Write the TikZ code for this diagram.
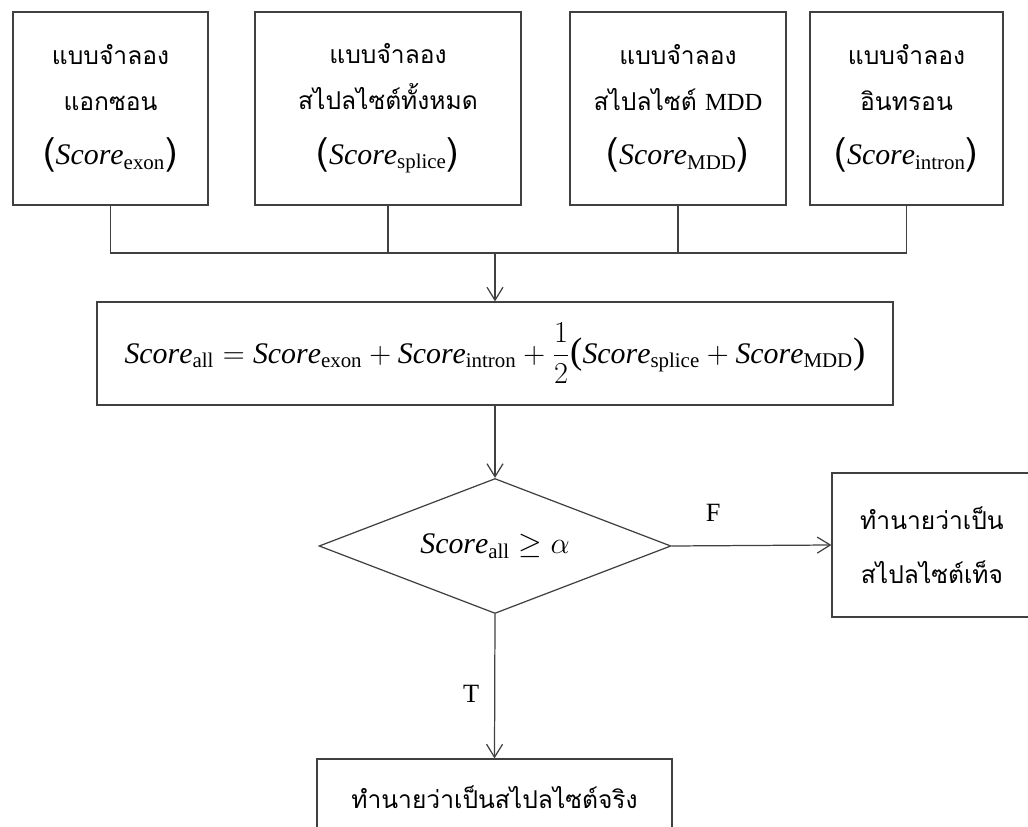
\documentclass[tikz,border=0pt]{standalone}
\usepackage{amsmath}
\usepackage{fontspec}
\setmainfont{Liberation Serif}
\newfontfamily\thaifont[Script=Thai]{Loma}
\usetikzlibrary{arrows.meta,shapes.geometric}
\newcommand{\score}[1]{\mathit{Score}_{\mathrm{#1}}}
\newcommand{\mathsz}{\fontsize{17}{25}\selectfont}
\newcommand{\bigparl}{\mathopen{\text{\fontsize{21}{21}\selectfont(}}}
\newcommand{\bigparr}{\mathclose{\text{\fontsize{21}{21}\selectfont)}}}
\tikzset{
	box/.style={draw=black!75, line width=0.7pt, inner sep=0pt, align=center},
	model/.style={box, minimum height=3.86cm, font=\thaifont\fontsize{14}{25}\selectfont},
	result/.style={box, font=\thaifont\fontsize{14}{31}\selectfont},
	formula/.style={box, minimum width=15.92cm, minimum height=2.06cm, font=\mathsz},
	decision/.style={box, diamond, aspect=2.6, minimum width=7.04cm, minimum height=2.7cm, font=\mathsz},
	link/.style={draw=black!75, line width=0.7pt},
	flow/.style={link, -{Straight Barb[length=2.6mm, width=3.2mm]}},
	tag/.style={inner sep=0pt, font=\fontsize{15}{18}\selectfont}
}

\begin{document}
\begin{tikzpicture}[x=0.02cm, y=-0.02cm]
		%%%%% START %%%%%
		\useasboundingbox (0,0) rectangle (1028,827);
		
		% four models
		\node[model, minimum width=3.9cm] (exon) at (110.5,108.5)
			{แบบจำลอง\\[1pt]แอกซอน\\[6pt]{\mathsz$\bigparl\score{exon}\bigparr$}};
		\node[model, minimum width=5.32cm] (splice) at (388,108.5)
			{แบบจำลอง\\[1pt]สไปลไซต์ทั้งหมด\\[6pt]{\mathsz$\bigparl\score{splice}\bigparr$}};
		\node[model, minimum width=4.32cm] (mdd) at (678,108.5)
			{แบบจำลอง\\[1pt]สไปลไซต์ {\rmfamily MDD}\\[6pt]{\mathsz$\bigparl\score{MDD}\bigparr$}};
		\node[model, minimum width=3.86cm] (intron) at (906.5,108.5)
			{แบบจำลอง\\[1pt]อินทรอน\\[6pt]{\mathsz$\bigparl\score{intron}\bigparr$}};
		
		\coordinate (bus) at (495,253);
		\draw[link] (exon.south) -- (exon.south |- bus) -- (intron.south |- bus) -- (intron.south);
		\draw[link] (splice.south) -- (splice.south |- bus);
		\draw[link] (mdd.south) -- (mdd.south |- bus);
		
		% total score
		\node[formula] (total) at (495,353.5)
			{$\score{all} = \score{exon} + \score{intron} + \dfrac{1}{2}\bigparl\score{splice} + \score{MDD}\bigparr$};
		\draw[flow] (bus) -- (total.north);
		
		% threshold
		\node[decision] (test) at (495,546) {$\score{all} \ge \alpha$};
		\draw[flow] (total.south) -- (test.north);
		
		\node[result, minimum width=4cm, minimum height=2.88cm] (false) at (932,545)
			{ทำนายว่าเป็น\\สไปลไซต์เท็จ};
		\node[result, minimum width=7.1cm, minimum height=1.52cm] (true) at (494.5,797)
			{ทำนายว่าเป็นสไปลไซต์จริง};
		
		\draw[flow] (test.east) -- node[tag, pos=0.26, above=0.48cm] (f) {F} (false.west);
		\draw[flow] (test.south) -- node[tag, pos=0.55, left=0.3cm] (t) {T} (true.north);
		
		%%%%% END %%%%%
	\end{tikzpicture}
\end{document}
